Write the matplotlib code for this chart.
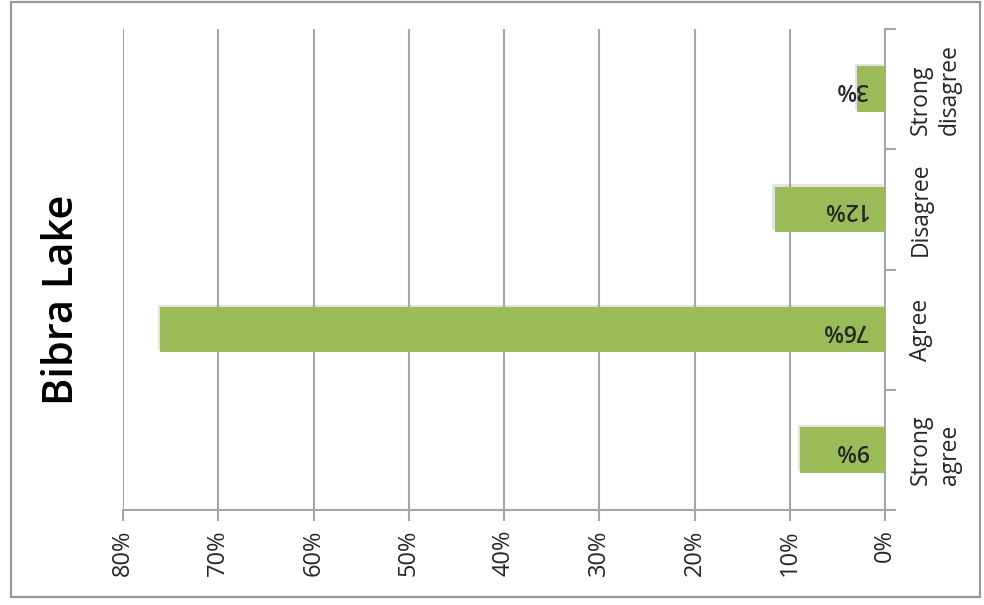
"""Bibra Lake agreement chart (rotated horizontal bars)"""

import matplotlib
matplotlib.use('Agg')
import matplotlib.pyplot as plt
import matplotlib.patheffects as pe
from matplotlib.patches import Rectangle
import numpy as np

plt.rcParams['font.family'] = ['Open Sans', 'DejaVu Sans']

# Data (share of respondents)
categories = ['Strong\nagree', 'Agree', 'Disagree', 'Strong\ndisagree']
shares = [0.089, 0.761, 0.116, 0.029]
value_labels = ['9%', '76%', '12%', '3%']
x_ticks = [0.0, 0.1, 0.2, 0.3, 0.4, 0.5, 0.6, 0.7, 0.8]
x_tick_labels = ['0%', '10%', '20%', '30%', '40%', '50%', '60%', '70%', '80%']
title = 'Bibra Lake'

bar_color = '#9BBB59'
grid_color = '#A6A6A6'
text_color = '#262626'

W, H = 984, 605
fig = plt.figure(figsize=(W / 100, H / 100), dpi=100)

# Outer frame
fig.patches.append(Rectangle((11 / W, 8 / H), 969 / W, 595 / H, transform=fig.transFigure,
                             fill=False, edgecolor='#999999', linewidth=1.6))

ax = fig.add_axes([123 / W, (H - 510) / H, 762 / W, 481 / H])

y = np.arange(len(categories))
bars = ax.barh(y, shares, height=0.38, color=bar_color, zorder=3)
for b in bars:
    b.set_path_effects([pe.SimplePatchShadow(offset=(-1.5, 1.5), shadow_rgbFace='#909090', alpha=0.25),
                        pe.Normal()])

ax.set_xlim(0.8, 0.0)
ax.set_ylim(-0.5, len(categories) - 0.5)

# Value labels, upside down like the source
for i, lab in enumerate(value_labels):
    ax.annotate(lab, xy=(0, i), xytext=(-17, 0), textcoords='offset pixels',
                ha='right', va='center', rotation=180, fontsize=16.5, fontweight='semibold',
                color=text_color, zorder=4)

# Vertical gridlines
ax.set_xticks(x_ticks)
ax.set_xticklabels(x_tick_labels, rotation=90, fontsize=17, color=text_color)
ax.xaxis.grid(True, color=grid_color, linewidth=1.5, zorder=0)
ax.tick_params(axis='x', length=8, width=1.5, color=grid_color, pad=6)

# Category axis on the right
ax.yaxis.tick_right()
ax.set_yticks(np.arange(-0.5, len(categories)), minor=False)
ax.set_yticklabels([''] * (len(categories) + 1))
ax.set_yticks(y, minor=True)
ax.set_yticklabels(categories, minor=True, rotation=90, fontsize=16.5, color=text_color,
                   va='center', linespacing=1.3)
ax.tick_params(axis='y', which='major', length=8, width=1.5, color=grid_color)
ax.tick_params(axis='y', which='minor', length=0, pad=17)

for side in ['top', 'left']:
    ax.spines[side].set_visible(False)
for side in ['right', 'bottom']:
    ax.spines[side].set_color(grid_color)
    ax.spines[side].set_linewidth(1.5)

fig.text(62 / W, 1 - 300 / H, title, rotation=90, ha='center', va='center',
         fontsize=30, fontweight='semibold', color='black')

fig.savefig('out.png', dpi=100)
plt.close(fig)
